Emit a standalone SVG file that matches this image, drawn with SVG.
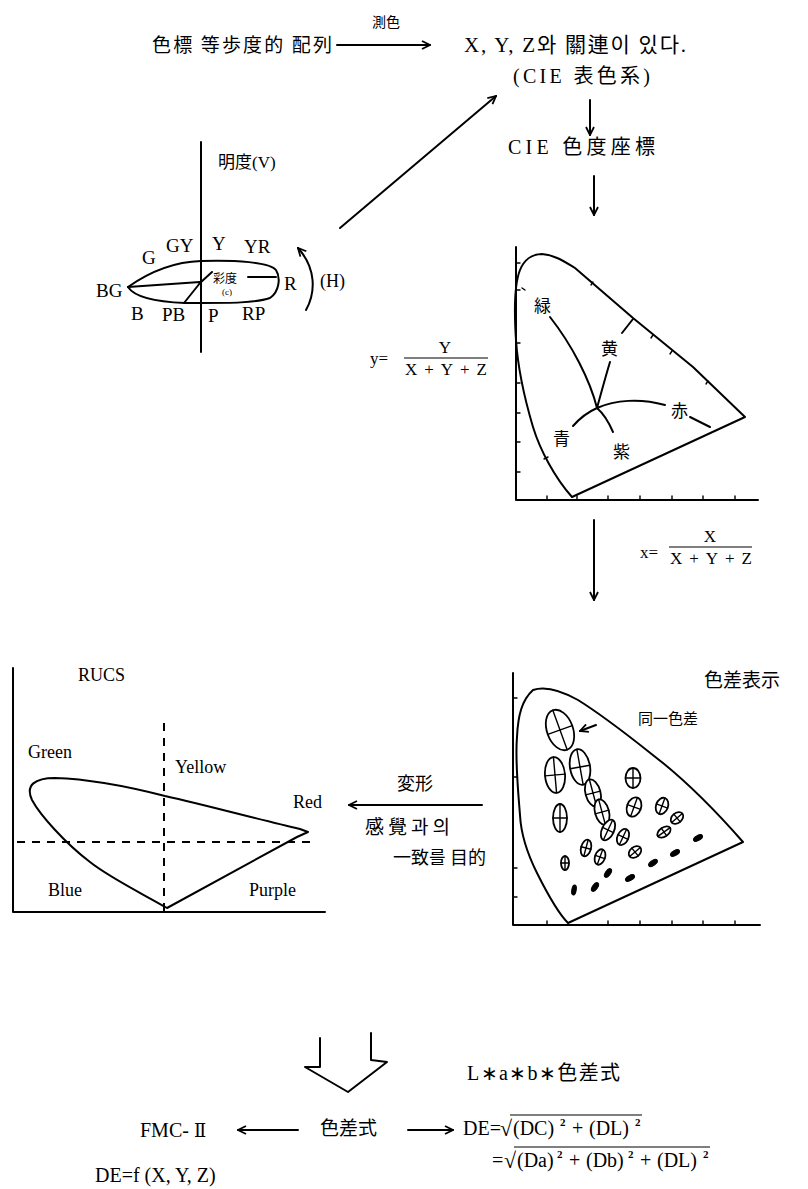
<svg xmlns="http://www.w3.org/2000/svg" width="808" height="1189" viewBox="0 0 808 1189">
<style>
.s{font-family:"Liberation Serif","Noto Sans CJK KR",serif;fill:#000}
.j{font-family:"Noto Sans CJK JP","Noto Sans CJK KR",sans-serif;fill:#000}
.k{font-family:"Liberation Serif","Noto Sans CJK KR",sans-serif;fill:#000}
.ln{fill:none;stroke:#000;stroke-width:2;stroke-linecap:round;stroke-linejoin:round}
.th{fill:none;stroke:#000;stroke-width:1.4;stroke-linecap:round}
.dash{fill:none;stroke:#000;stroke-width:2;stroke-dasharray:8 7}
.el{fill:#fff;stroke:#000;stroke-width:1.8}
.fe{fill:#000;stroke:#000;stroke-width:1}
.sup{font-size:11px;font-weight:bold}
</style>
<defs>
<marker id="ah" viewBox="0 0 10 10" refX="9" refY="5" markerWidth="10" markerHeight="10" markerUnits="userSpaceOnUse" orient="auto">
<path d="M1,1 L9,5 L1,9" fill="none" stroke="#000" stroke-width="1.8"/>
</marker>
</defs>
<rect width="808" height="1189" fill="#fff"/>

<g id="top-left-text">
<text class="j" x="152" y="52" font-size="19" textLength="180" lengthAdjust="spacing">色標 等歩度的 配列</text>
<text class="j" x="372" y="27" font-size="14" textLength="28">測色</text>
</g>
<g id="cie-text">
<text class="k" x="464" y="52" font-size="21" textLength="222" lengthAdjust="spacing">X, Y, Z와 關連이 있다.</text>
<text class="k" x="513" y="83" font-size="20" textLength="137" lengthAdjust="spacing">(CIE 表色系)</text>
</g>
<g id="cie-coord-text">
<text class="k" x="508" y="154" font-size="20" textLength="147" lengthAdjust="spacing">CIE 色度座標</text>
</g>

<g id="munsell">
<line class="ln" x1="201" y1="142" x2="201" y2="352"/>
<path class="ln" d="M128,287 C145,275 170,262 201,261 C235,260 270,262 276,270 C281,278 279,292 270,298 C255,303 230,303 201,303 L185,303 C160,302 135,298 128,287 Z"/>
<path class="ln" d="M128,287 L200,282 M200,283 L212,272 M200,283 L184,303 M248,277 L276,277"/>
<text class="k" x="218" y="168" font-size="17">明度(V)</text>
<text class="j" x="213" y="283" font-size="12">彩度</text>
<text class="s" x="222" y="295" font-size="9">(c)</text>
<text class="s" x="142" y="264" font-size="19">G</text>
<text class="s" x="166" y="252" font-size="19">GY</text>
<text class="s" x="212" y="250" font-size="19">Y</text>
<text class="s" x="244" y="253" font-size="19">YR</text>
<text class="s" x="96" y="297" font-size="19">BG</text>
<text class="s" x="284" y="290" font-size="19">R</text>
<text class="s" x="320" y="287" font-size="18">(H)</text>
<text class="s" x="131" y="320" font-size="19">B</text>
<text class="s" x="162" y="321" font-size="19">PB</text>
<text class="s" x="208" y="322" font-size="19">P</text>
<text class="s" x="242" y="320" font-size="19">RP</text>
</g>

<g id="chromaticity">
<path class="ln" d="M516,247 L516,500 L758,500"/>
<path class="th" d="M516,263 h4 M516,290 h4 M516,343 h4 M516,383 h4 M516,413 h4 M516,442 h4 M516,472 h4 M547,500 v-4 M577,500 v-4 M608,500 v-4 M640,500 v-4 M672,500 v-4 M703,500 v-4 M735,500 v-4"/>
<path class="ln" d="M572,497 C555,478 540,450 533,427 C525,400 518,370 516,340 C514,310 514,285 520,270 C524,260 532,254 542,254 C555,255 565,262 575,268 L633,318 L693,367 L745,417 Z"/>
<path class="th" d="M593,282 l-2,3 M653,335 l-2,3 M672,351 l-2,3 M708,381 l-2,3 M548,457 l-4,2 M525,290 l-3,-2"/>
<path class="ln" d="M550,317 C572,345 590,380 597,408 M597,408 C602,390 606,375 610,362 M622,333 L633,319 M597,408 C615,400 640,398 665,405 M690,417 L710,427 M597,408 C588,412 580,418 573,426 M597,408 C605,415 610,425 613,432" stroke-width="1.6"/>
<text class="j" x="534" y="312" font-size="17">緑</text>
<text class="j" x="601" y="355" font-size="17">黄</text>
<text class="j" x="671" y="417" font-size="17">赤</text>
<text class="j" x="553" y="445" font-size="17">青</text>
<text class="j" x="613" y="458" font-size="17">紫</text>
</g>

<g id="formula-y">
<text class="s" x="370" y="364" font-size="17">y=</text>
<text class="s" x="445" y="353" font-size="17" text-anchor="middle">Y</text>
<line x1="404" y1="358" x2="488" y2="358" stroke="#000" stroke-width="1.2"/>
<text class="s" x="405" y="375" font-size="17" textLength="82" lengthAdjust="spacing">X+Y+Z</text>
</g>

<g id="formula-x">
<text class="s" x="640" y="558" font-size="17">x=</text>
<text class="s" x="710" y="542" font-size="17" text-anchor="middle">X</text>
<line x1="669" y1="547" x2="752" y2="547" stroke="#000" stroke-width="1.2"/>
<text class="s" x="670" y="564" font-size="17" textLength="82" lengthAdjust="spacing">X+Y+Z</text>
</g>

<g id="rucs">
<path class="ln" d="M13,668 L13,912 L325,912"/>
<path class="dash" d="M164,723 L164,912 M17,842 L310,842"/>
<path class="ln" d="M167,908 C145,895 110,878 90,862 C65,843 40,815 32,800 C25,785 35,778 55,778 C90,779 130,787 165,796 C210,806 260,820 300,829 L308,832 L297,837 Z"/>
<text class="s" x="78" y="681" font-size="18">RUCS</text>
<text class="s" x="28" y="758" font-size="18">Green</text>
<text class="s" x="175" y="773" font-size="18">Yellow</text>
<text class="s" x="293" y="808" font-size="18">Red</text>
<text class="s" x="48" y="896" font-size="18">Blue</text>
<text class="s" x="249" y="896" font-size="18">Purple</text>
</g>

<g id="color-difference">
<path class="ln" d="M513,673 L513,925 L760,925"/>
<path class="th" d="M513,698 h4 M513,777 h4 M513,868 h4 M513,897 h4 M547,925 v-4 M608,925 v-4 M640,925 v-4 M672,925 v-4 M703,925 v-4 M735,925 v-4"/>
<path class="ln" d="M568,923 C560,915 548,895 537,873 C528,855 521,835 520,815 C518,790 515,760 517,737 C518,715 522,700 533,690 C545,686 560,690 578,700 C610,720 640,745 663,763 C690,785 715,810 743,842 Z"/>
<text class="j" x="704" y="687" font-size="19">色差表示</text>
<text class="j" x="638" y="724" font-size="15">同一色差</text>
<g transform="translate(560,730) rotate(-20)"><ellipse class="el" rx="13" ry="21"/><path class="th" d="M-13,0 H13 M0,-21 V21"/></g>
<g transform="translate(580,767) rotate(-10)"><ellipse class="el" rx="10" ry="18"/><path class="th" d="M-10,0 H10 M0,-18 V18"/></g>
<g transform="translate(555,775) rotate(-5)"><ellipse class="el" rx="10" ry="18"/><path class="th" d="M-10,0 H10 M0,-18 V18"/></g>
<g transform="translate(593,793) rotate(-15)"><ellipse class="el" rx="7.5" ry="14"/><path class="th" d="M-7.5,0 H7.5 M0,-14 V14"/></g>
<g transform="translate(602,812) rotate(-15)"><ellipse class="el" rx="7" ry="13"/><path class="th" d="M-7,0 H7 M0,-13 V13"/></g>
<g transform="translate(608,830) rotate(25)"><ellipse class="el" rx="6" ry="11"/><path class="th" d="M-6,0 H6 M0,-11 V11"/></g>
<g transform="translate(560,818)"><ellipse class="el" rx="7" ry="14"/><path class="th" d="M-7,0 H7 M0,-14 V14"/></g>
<g transform="translate(633,778)"><ellipse class="el" rx="7.5" ry="10"/><path class="th" d="M-7.5,0 H7.5 M0,-10 V10"/></g>
<g transform="translate(634,807) rotate(20)"><ellipse class="el" rx="7" ry="10"/><path class="th" d="M-7,0 H7 M0,-10 V10"/></g>
<g transform="translate(662,806) rotate(20)"><ellipse class="el" rx="6" ry="8.5"/><path class="th" d="M-6,0 H6 M0,-8.5 V8.5"/></g>
<g transform="translate(623,837) rotate(25)"><ellipse class="el" rx="5.5" ry="8.5"/><path class="th" d="M-5.5,0 H5.5 M0,-8.5 V8.5"/></g>
<g transform="translate(677,818) rotate(50)"><ellipse class="el" rx="5" ry="7"/><path class="th" d="M-5,0 H5 M0,-7 V7"/></g>
<g transform="translate(664,832) rotate(55)"><ellipse class="el" rx="4.5" ry="7.5"/><path class="th" d="M-4.5,0 H4.5 M0,-7.5 V7.5"/></g>
<g transform="translate(586,848) rotate(15)"><ellipse class="el" rx="5" ry="8.5"/><path class="th" d="M-5,0 H5 M0,-8.5 V8.5"/></g>
<g transform="translate(600,857) rotate(20)"><ellipse class="el" rx="5" ry="8"/><path class="th" d="M-5,0 H5 M0,-8 V8"/></g>
<g transform="translate(565,863)"><ellipse class="el" rx="4" ry="7"/><path class="th" d="M-4,0 H4 M0,-7 V7"/></g>
<g transform="translate(635,852) rotate(50)"><ellipse class="el" rx="5" ry="7"/><path class="th" d="M-5,0 H5 M0,-7 V7"/></g>
<ellipse class="fe" cx="698" cy="838" rx="2.5" ry="5" transform="rotate(60 698 838)"/>
<ellipse class="fe" cx="675" cy="853" rx="2.5" ry="5" transform="rotate(60 675 853)"/>
<ellipse class="fe" cx="653" cy="863" rx="2.5" ry="5" transform="rotate(55 653 863)"/>
<ellipse class="fe" cx="630" cy="878" rx="2.5" ry="5" transform="rotate(60 630 878)"/>
<ellipse class="fe" cx="608" cy="873" rx="2.5" ry="5" transform="rotate(35 608 873)"/>
<ellipse class="fe" cx="595" cy="887" rx="2.5" ry="5" transform="rotate(35 595 887)"/>
<ellipse class="fe" cx="574" cy="890" rx="2.2" ry="5" transform="rotate(10 574 890)"/>
</g>

<g id="henkei-text">
<text class="j" x="397" y="790" font-size="18">変形</text>
<text class="k" x="365" y="834" font-size="19" textLength="85" lengthAdjust="spacing">感覺과의</text>
<text class="k" x="393" y="864" font-size="18">一致를 目的</text>
</g>

<g id="bottom-center">
<text class="j" x="320" y="1135" font-size="19" textLength="57">色差式</text>
</g>
<g id="fmc">
<text class="k" x="140" y="1137" font-size="20">FMC- <tspan font-family="DejaVu Serif" font-size="18">Ⅱ</tspan></text>
<text class="s" x="95" y="1182" font-size="20">DE=f (X, Y, Z)</text>
</g>
<g id="lab">
<text class="k" x="467" y="1080" font-size="20" textLength="153" lengthAdjust="spacing">L∗a∗b∗色差式</text>
<text class="s" x="463" y="1135" font-size="20">DE=</text>
<text class="s" x="500" y="1136" font-size="22">√</text>
<text class="s" x="513" y="1135" font-size="20">(DC)</text>
<text class="s sup" x="560" y="1126">2</text>
<text class="s" x="572" y="1135" font-size="20">+</text>
<text class="s" x="589" y="1135" font-size="20">(DL)</text>
<text class="s sup" x="635" y="1126">2</text>
<line x1="510" y1="1115" x2="642" y2="1115" stroke="#000" stroke-width="1.2"/>
<text class="s" x="492" y="1167" font-size="20">=</text>
<text class="s" x="504" y="1168" font-size="22">√</text>
<text class="s" x="517" y="1167" font-size="20">(Da)</text>
<text class="s sup" x="557" y="1158">2</text>
<text class="s" x="569" y="1167" font-size="20">+</text>
<text class="s" x="586" y="1167" font-size="20">(Db)</text>
<text class="s sup" x="628" y="1158">2</text>
<text class="s" x="640" y="1167" font-size="20">+</text>
<text class="s" x="657" y="1167" font-size="20">(DL)</text>
<text class="s sup" x="703" y="1158">2</text>
<line x1="514" y1="1147" x2="710" y2="1147" stroke="#000" stroke-width="1.2"/>
</g>

<g id="connectors">
<line class="ln" x1="337" y1="45" x2="430" y2="45" marker-end="url(#ah)"/>
<line class="ln" x1="590" y1="100" x2="590" y2="135" marker-end="url(#ah)"/>
<line class="ln" x1="594" y1="176" x2="594" y2="215" marker-end="url(#ah)"/>
<line class="ln" x1="340" y1="228" x2="496" y2="96" marker-end="url(#ah)"/>
<path class="ln" d="M306,310 C316,292 316,268 298,248" marker-end="url(#ah)"/>
<line class="ln" x1="594" y1="520" x2="594" y2="600" marker-end="url(#ah)"/>
<line class="ln" x1="482" y1="805" x2="349" y2="805" marker-end="url(#ah)"/>
<line class="ln" x1="298" y1="1130" x2="238" y2="1130" marker-end="url(#ah)"/>
<line class="ln" x1="408" y1="1130" x2="453" y2="1130" marker-end="url(#ah)"/>
<line class="ln" x1="596" y1="725" x2="580" y2="731" marker-end="url(#ah)"/>
<path class="ln" d="M320,1038 L320,1067 L305,1067 L348,1092 L387,1062 L371,1060 L371,1033"/>
</g>
</svg>
